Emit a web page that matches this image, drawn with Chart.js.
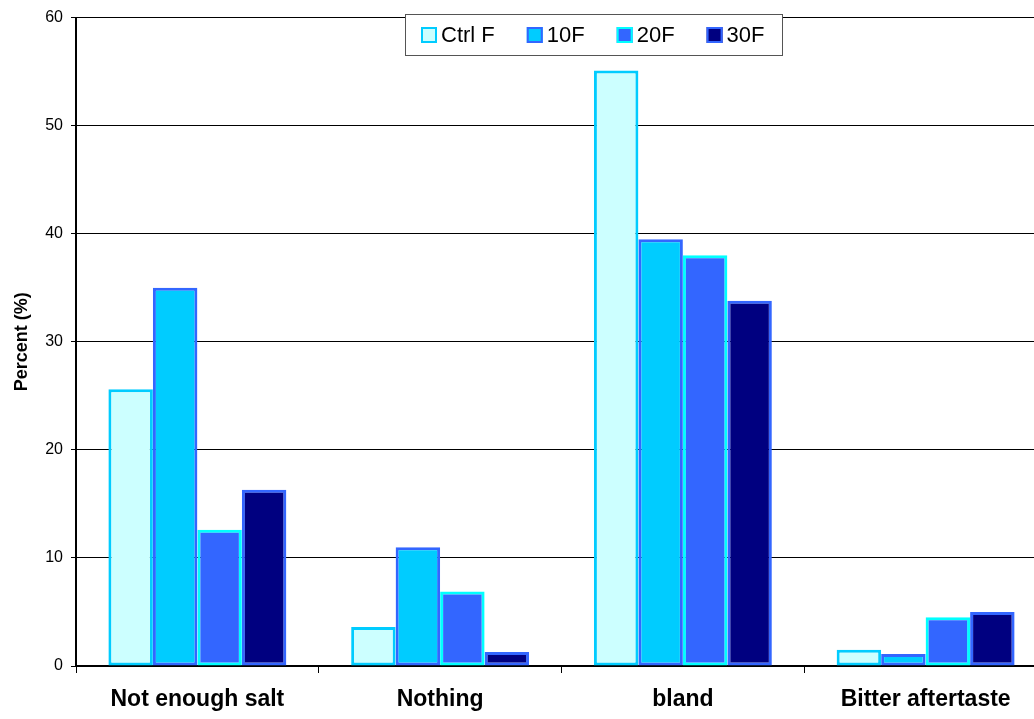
<!DOCTYPE html>
<html>
<head>
<meta charset="utf-8">
<script src="https://cdn.jsdelivr.net/npm/chart.js@4/dist/chart.umd.min.js"></script>
<style>
  html, body { margin: 0; padding: 0; background: #fff; overflow: hidden; }
  #wrap { position: relative; width: 1060px; height: 719px; }
</style>
</head>
<body>
<div id="wrap"><canvas id="tasteChart"></canvas></div>
<script>
// values
var categories = ['Not enough salt', 'Nothing', 'bland', 'Bitter aftertaste'];
var seriesNames = ['Ctrl F', '10F', '20F', '30F'];
var ctrlF = [25.6, 3.6, 55.1, 1.5];
var f10 = [35.0, 11.0, 39.5, 1.1];
var f20 = [12.6, 6.9, 38.0, 4.5];
var f30 = [16.3, 1.3, 33.8, 5.0];

var fills = ['#CCFFFF', '#00CCFF', '#3366FF', '#000080'];
var edges = ['#00CCFF', '#3366FF', '#00FFFF', '#3366FF'];
var font = 'Arial, "Liberation Sans", sans-serif';

var values = [ctrlF, f10, f20, f30];
var datasets = seriesNames.map(function (name, i) {
    return {
        label: name,
        data: values[i],
        backgroundColor: fills[i],
        borderColor: edges[i],
        borderWidth: 3,
        borderSkipped: false,
        categoryPercentage: 0.733,
        barPercentage: 1.0
    };
});

// legend box drawn inside the plot, like the original
var boxLegend = {
    id: 'boxLegend',
    afterDraw: function (chart) {
        var ctx = chart.ctx;
        ctx.save();
        ctx.fillStyle = '#fff';
        ctx.fillRect(405, 14, 377, 41);
        ctx.strokeStyle = '#555';
        ctx.lineWidth = 1;
        ctx.strokeRect(405.5, 14.5, 377, 41);
        ctx.font = '22px ' + font;
        ctx.textBaseline = 'middle';
        var x = 421;
        chart.data.datasets.forEach(function (ds) {
            ctx.fillStyle = ds.backgroundColor;
            ctx.fillRect(x, 27, 16, 16);
            ctx.strokeStyle = ds.borderColor;
            ctx.lineWidth = 2;
            ctx.strokeRect(x + 1, 28, 14, 14);
            ctx.fillStyle = '#000';
            ctx.fillText(ds.label, x + 20, 36);
            x += 20 + ctx.measureText(ds.label).width + 32;
        });
        ctx.restore();
    }
};

var ctx = document.getElementById('tasteChart');
var tasteChart = new Chart(ctx, {
    type: 'bar',
    data: { labels: categories, datasets: datasets },
    options: {
        responsive: true,
        maintainAspectRatio: false,
        animation: false,
        layout: { padding: { left: 0, right: 13, top: 14, bottom: 0 } },
        plugins: {
            legend: { display: false },
            tooltip: { enabled: false }
        },
        scales: {
            x: {
                grid: {
                    display: true,
                    offset: true,
                    drawOnChartArea: false,
                    color: '#000',
                    tickLength: 7
                },
                border: { color: '#000', width: 1.5 },
                ticks: {
                    color: '#000',
                    padding: 13,
                    maxRotation: 0,
                    font: { family: font, size: 23, weight: 'bold' }
                },
                afterFit: function (scale) { scale.height = 53; }
            },
            y: {
                min: 0,
                max: 60,
                ticks: {
                    stepSize: 10,
                    color: '#000',
                    padding: 8,
                    font: { family: font, size: 16 }
                },
                grid: { color: '#000', lineWidth: 1, tickLength: 5 },
                border: { color: '#000', width: 2 },
                title: {
                    display: true,
                    text: 'Percent (%)',
                    color: '#000',
                    padding: { top: 11, bottom: 0 },
                    font: { family: font, size: 18, weight: 'bold' }
                },
                afterFit: function (scale) { scale.width = 76; }
            }
        }
    },
    plugins: [boxLegend]
});
</script>
</body>
</html>
